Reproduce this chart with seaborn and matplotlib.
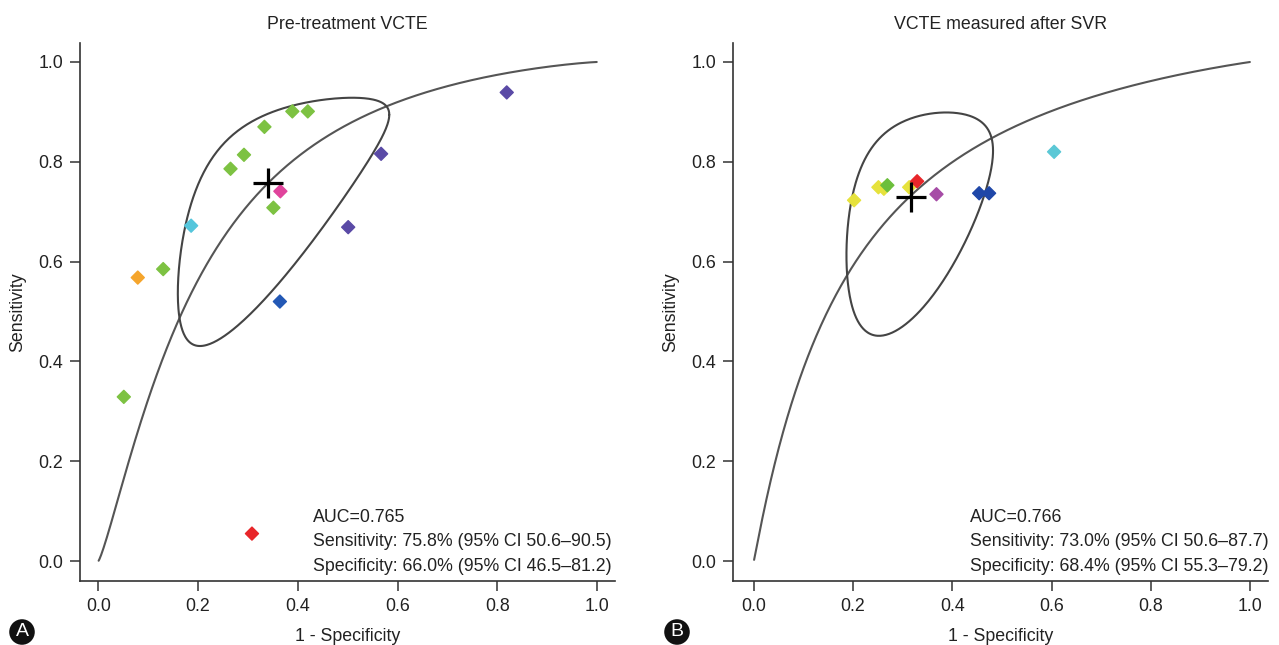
import numpy as np
import pandas as pd
import matplotlib
matplotlib.use("Agg")
import matplotlib.pyplot as plt
import seaborn as sns

# ---------------- data ----------------
# Panel A: Pre-treatment VCTE (x = 1 - specificity, y = sensitivity)
a_fpr = [0.389, 0.420, 0.333, 0.292, 0.265, 0.365, 0.351, 0.186, 0.567, 0.501, 0.130, 0.079, 0.364, 0.819, 0.051, 0.308]
a_sens = [0.901, 0.901, 0.870, 0.814, 0.786, 0.741, 0.708, 0.672, 0.816, 0.669, 0.585, 0.568, 0.520, 0.939, 0.329, 0.055]
a_colors = ["#7dc242", "#7dc242", "#7dc242", "#7dc242", "#7dc242", "#e0449c", "#7dc242", "#55c6dc",
            "#5a4aa6", "#5a4aa6", "#7dc242", "#f5a52c", "#2358b5", "#5a4aa6", "#7dc242", "#e8262a"]
# summary point and SROC / confidence region parameters (logit space)
a_summary = (0.340, 0.758)          # 1 - specificity, sensitivity
a_sroc = (1.945, 1.219)             # intercept, slope of logit(sens) vs logit(fpr)
a_region = (1.00, 1.42, 0.70)       # half-width logit fpr, half-width logit sens, correlation
a_text = ["AUC=0.765",
          "Sensitivity: 75.8% (95% CI 50.6\u201390.5)",
          "Specificity: 66.0% (95% CI 46.5\u201381.2)"]

# Panel B: VCTE measured after SVR
b_fpr = [0.202, 0.251, 0.262, 0.269, 0.313, 0.329, 0.368, 0.454, 0.474, 0.605]
b_sens = [0.723, 0.749, 0.746, 0.753, 0.749, 0.761, 0.735, 0.737, 0.737, 0.820]
b_colors = ["#e6e23c", "#e6e23c", "#e6e23c", "#6cbf3c", "#e6e23c", "#e8262a", "#a64ca6",
            "#1f47a8", "#1f47a8", "#5bc8d6"]
b_summary = (0.316, 0.730)
b_sroc = (1.80, 1.03)
b_region = (0.70, 1.19, 0.45)
b_text = ["AUC=0.766",
          "Sensitivity: 73.0% (95% CI 50.6\u201387.7)",
          "Specificity: 68.4% (95% CI 55.3\u201379.2)"]

titles = ["Pre-treatment VCTE", "VCTE measured after SVR"]
panel_letters = ["A", "B"]
ticks = [0.0, 0.2, 0.4, 0.6, 0.8, 1.0]
tick_labels = ["0.0", "0.2", "0.4", "0.6", "0.8", "1.0"]

# ---------------- style ----------------
sns.set_theme(style="white")
plt.rcParams["font.family"] = ["Liberation Sans", "DejaVu Sans"]
plt.rcParams["axes.edgecolor"] = "#333333"
FS = 12.8


def logit(p):
    p = np.asarray(p, dtype=float)
    return np.log(p / (1 - p))


def expit(z):
    return 1.0 / (1.0 + np.exp(-z))


fig = plt.figure(figsize=(12.79, 6.45), dpi=100)
ax_a = fig.add_axes([0.0625, 0.0992, 0.4183, 0.8341])
ax_b = fig.add_axes([0.5731, 0.0992, 0.4183, 0.8341])

panels = [
    (ax_a, a_fpr, a_sens, a_colors, a_summary, a_sroc, a_region, a_text, (-0.037, 1.036)),
    (ax_b, b_fpr, b_sens, b_colors, b_summary, b_sroc, b_region, b_text, (-0.042, 1.036)),
]

for i, (ax, fpr, sens, cols, summ, sroc, region, txt, xlim) in enumerate(panels):
    # SROC curve
    grid = np.linspace(0.0005, 0.9995, 600)
    curve = pd.DataFrame({"fpr": grid, "sens": expit(sroc[0] + sroc[1] * logit(grid))})
    sns.lineplot(data=curve, x="fpr", y="sens", ax=ax, color="#555555", lw=1.5,
                 estimator=None, sort=False, zorder=2)

    # confidence region (ellipse in logit space)
    t = np.linspace(0, 2 * np.pi, 400)
    cx, cy = logit(summ[0]), logit(summ[1])
    sx, sy, rho = region
    delta = np.arccos(rho)
    ex = cx + sx * np.cos(t)
    ey = cy + sy * np.cos(t - delta)
    ell = pd.DataFrame({"fpr": expit(ex), "sens": expit(ey)})
    sns.lineplot(data=ell, x="fpr", y="sens", ax=ax, color="#444444", lw=1.5,
                 estimator=None, sort=False, zorder=2)

    # study points
    pts = pd.DataFrame({"fpr": fpr, "sens": sens, "c": cols})
    sns.scatterplot(data=pts, x="fpr", y="sens", hue="c", palette={c: c for c in set(cols)},
                    marker="D", s=44, linewidth=1.0, edgecolor="face", legend=False, ax=ax, zorder=3)

    # summary cross
    ax.plot([summ[0]], [summ[1]], marker="+", color="black", markersize=21, mew=2.3, zorder=4)

    # text
    tx = 0.430 if i == 0 else 0.435
    for j, (s, yy) in enumerate(zip(txt, [0.088, 0.040, -0.010])):
        ax.text(tx, yy, s, fontsize=FS, color="#222222", ha="left", va="center", zorder=5)

    ax.set_xlim(*xlim)
    ax.set_ylim(-0.040, 1.038)
    ax.set_xticks(ticks)
    ax.set_xticklabels(tick_labels)
    ax.set_yticks(ticks)
    ax.set_yticklabels(tick_labels)
    ax.tick_params(axis="both", which="major", direction="out", length=7, width=1.1,
                   color="#333333", labelsize=FS, labelcolor="#222222", pad=5,
                   bottom=True, left=True)
    for side in ["top", "right"]:
        ax.spines[side].set_visible(False)
    for side in ["left", "bottom"]:
        ax.spines[side].set_linewidth(1.2)
    ax.set_xlabel("1 - Specificity", fontsize=FS, color="#222222")
    ax.set_ylabel("Sensitivity", fontsize=FS, color="#222222")
    ax.xaxis.set_label_coords(0.5, -0.087)
    ax.yaxis.set_label_coords(-0.101, 0.5)
    ax.set_title(titles[i], fontsize=FS, color="#222222", pad=10)

# panel letters
for letter, xpx in zip(panel_letters, [22, 677]):
    fig.text(xpx / 1279, 1 - 632 / 645, letter, fontsize=14, color="white", ha="center", va="center",
             bbox=dict(boxstyle="circle,pad=0.22", fc="#111111", ec="none"))

fig.savefig("out.png", dpi=100)
